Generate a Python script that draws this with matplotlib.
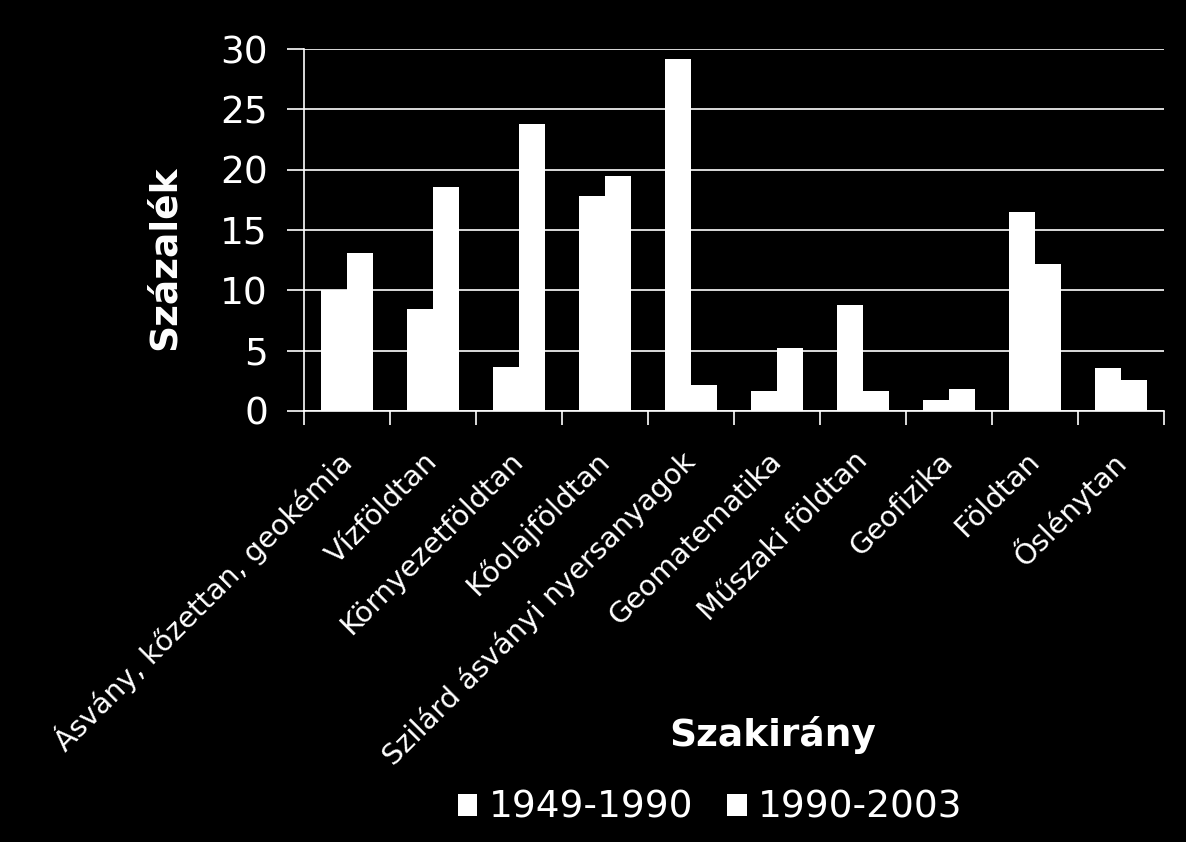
import matplotlib
matplotlib.use("Agg")
import matplotlib.pyplot as plt
import numpy as np

categories = ["Ásvány, kőzettan, geokémia", "Vízföldtan", "Környezetföldtan",
              "Kőolajföldtan", "Szilárd ásványi nyersanyagok", "Geomatematika",
              "Műszaki földtan", "Geofizika", "Földtan", "Őslénytan"]
series_names = ["1949-1990", "1990-2003"]
s1 = [10.0, 8.45, 3.65, 17.8, 29.2, 1.65, 8.8, 0.9, 16.5, 3.55]
s2 = [13.1, 18.55, 23.8, 19.5, 2.15, 5.2, 1.65, 1.8, 12.2, 2.55]
yticks = [0, 5, 10, 15, 20, 25, 30]

plt.rcParams['font.family'] = ['DejaVu Sans']
fig = plt.figure(figsize=(11.86, 8.42), dpi=100, facecolor='black')
ax = fig.add_axes([304/1186, 1-411/842, 860/1186, (411-49)/842], facecolor='black')

x = np.arange(len(categories))
w = 0.3
ax.bar(x - w/2, s1, width=w, color='white', label=series_names[0], zorder=3)
ax.bar(x + w/2, s2, width=w, color='white', label=series_names[1], zorder=3)

ax.set_xlim(-0.5, len(categories) - 0.5)
ax.set_ylim(0, 30)
ax.set_yticks(yticks)
ax.set_yticklabels([str(t) for t in yticks], fontsize=27, color='white')
ax.yaxis.grid(True, color='white', linewidth=1.2, zorder=0)
ax.set_xticks(x)
ax.set_xticklabels(categories, rotation=45, ha='right', va='center', rotation_mode='anchor',
                   fontsize=20.7, color='white')
ax.tick_params(axis='x', length=0, pad=33)
ax.set_xticks(np.arange(len(categories) + 1) - 0.5, minor=True)
ax.tick_params(axis='x', which='minor', length=10, color='white', width=1.2)
ax.tick_params(axis='y', length=12, color='white', width=1.2, pad=14)
for s in ['top', 'right']:
    ax.spines[s].set_visible(False)
for s in ['left', 'bottom']:
    ax.spines[s].set_color('white')
    ax.spines[s].set_linewidth(1.2)

fig.text(165/1186, 1-258/842, "Százalék", rotation=90, fontsize=27, fontweight='bold',
         color='white', ha='center', va='center')
fig.text(773/1186, 1-735/842, "Szakirány", fontsize=27, fontweight='bold',
         color='white', ha='center', va='center')

leg = fig.legend(loc='center', bbox_to_anchor=(710/1186, 1-808/842), ncol=2,
                 frameon=False, fontsize=27, labelcolor='white',
                 handlelength=0.53, handleheight=0.53, handletextpad=0.3, columnspacing=0.9)
fig.savefig("out.png", dpi=100, facecolor='black')
